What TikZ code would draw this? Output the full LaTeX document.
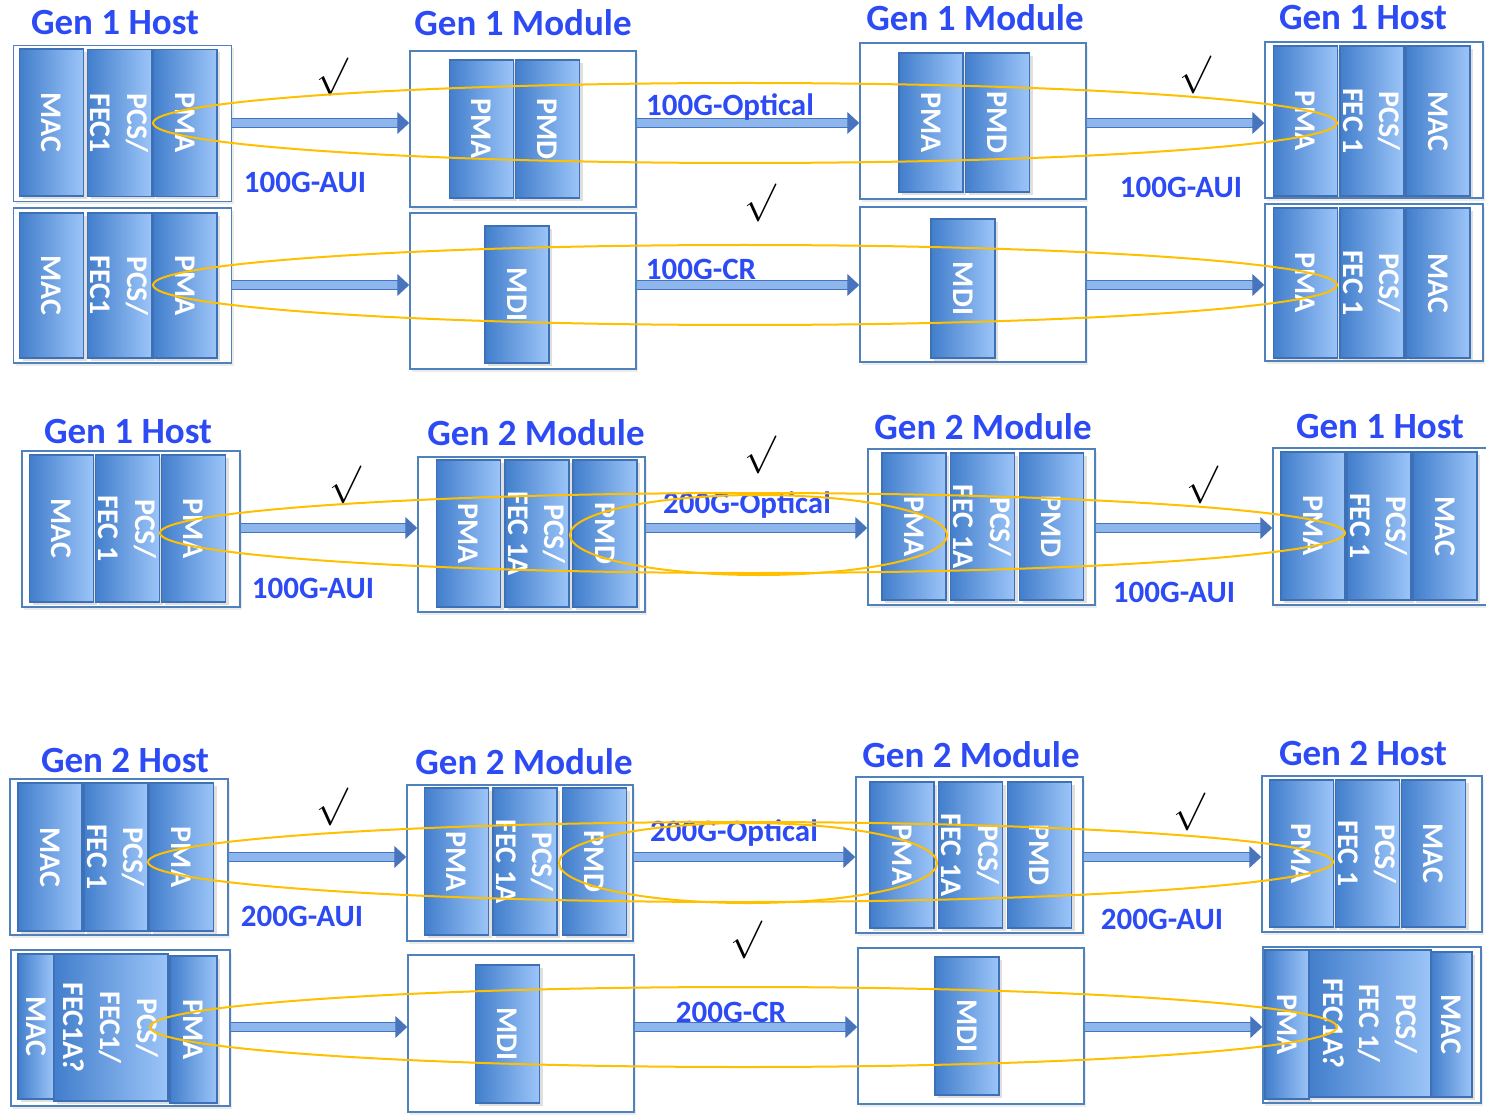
\documentclass[tikz,border=0pt]{standalone}
\usepackage{fontspec}
\setmainfont{Carlito}
\usetikzlibrary{arrows.meta,shadows}

\definecolor{blockdark}{RGB}{66,126,204}
\definecolor{blocklight}{RGB}{156,197,248}
\definecolor{blockedge}{RGB}{62,112,182}
\definecolor{boxedge}{RGB}{79,129,189}
\definecolor{textblue}{RGB}{45,75,245}
\definecolor{loopgold}{RGB}{255,192,0}
\definecolor{arrowedge}{RGB}{72,116,190}
\definecolor{arrowfill}{RGB}{140,182,236}

\begin{document}
\begin{tikzpicture}[x=0.5pt, y=-0.5pt,
  unit_node/.style={draw=boxedge, line width=0.75pt, fill=white, inner sep=0pt, minimum width=109pt, minimum height=78pt, drop shadow={opacity=0.15, shadow xshift=1pt, shadow yshift=-1.5pt}},
  layer_node/.style={rotate=-90, draw=blockedge, line width=0.6pt, left color=blockdark, right color=blocklight, text=white, align=center, inner sep=0pt, minimum height=32pt, minimum width=#1, font=\fontsize{15}{18.3}\selectfont\bfseries, drop shadow={opacity=0.25, shadow xshift=1.5pt, shadow yshift=-1.5pt}},
  title_node/.style={text=textblue, font=\fontsize{18.5}{22}\selectfont\bfseries},
  link_label/.style={text=textblue, font=\fontsize{15.5}{18}\selectfont\bfseries},
  tick_node/.style={scale=1.9, inner sep=0pt},
  link_arrow/.style={draw=arrowedge, line width=0.6pt, double=arrowfill, double distance=3.8pt, -{Triangle[length=6pt, width=11pt]}},
  pair_loop/.style={draw=loopgold, line width=1pt}]
    \useasboundingbox (0,0) rectangle (1486,1117);

    % row 1: Gen 1 host - Gen 1 module - optical
    \node[title_node] (t11) at (115,23) {Gen 1 Host};
    \node[title_node] (t12) at (523,23) {Gen 1 Module};
    \node[title_node] (t13) at (975,18) {Gen 1 Module};
    \node[title_node] (t14) at (1363,18) {Gen 1 Host};

    \node[unit_node] (hostL1) at (122.5,123.5) {};
    \node[layer_node=73.5pt] (macL1) at (51.5,122.5) {MAC};
    \node[layer_node=73.5pt] (pcsL1) at (119.5,123) {PCS/\\FEC1};
    \node[layer_node=73.5pt] (pmaL1) at (185,123) {PMA};

    \node[unit_node, minimum width=113pt] (modL1) at (523,129) {};
    \node[layer_node=69pt] (pmaML1) at (481.5,129) {PMA};
    \node[layer_node=69pt] (pmdML1) at (547.5,129) {PMD};

    \node[unit_node, minimum width=113pt] (modR1) at (973,121) {};
    \node[layer_node=69.5pt] (pmaMR1) at (931,122.5) {PMA};
    \node[layer_node=69.5pt] (pmdMR1) at (997.5,122.5) {PMD};

    \node[unit_node] (hostR1) at (1374,120) {};
    \node[layer_node=75pt] (pmaR1) at (1305.5,121) {PMA};
    \node[layer_node=75pt] (pcsR1) at (1372,121) {PCS/\\FEC 1};
    \node[layer_node=75pt] (macR1) at (1438,121) {MAC};

    \coordinate (row1) at (0,123);
    \draw[link_arrow] (hostL1.east |- row1) -- (modL1.west |- row1);
    \draw[link_arrow] (modL1.east |- row1) -- (modR1.west |- row1);
    \draw[link_arrow] (modR1.east |- row1) -- (hostR1.west |- row1);
    \node[link_label] (aui11) at (305,182) {100G-AUI};
    \node[link_label] (med1) at (730,107) {100G-Optical};
    \node[link_label] (aui12) at (1181,187) {100G-AUI};
    \node[tick_node] (ok11) at (332,77) {$\surd$};
    \node[tick_node] (ok12) at (1195,75) {$\surd$};

    % row 2: Gen 1 host - copper
    \node[unit_node, minimum height=77.5pt] (hostL2) at (122.5,285.5) {};
    \node[layer_node=72.5pt] (macL2) at (51.5,285.5) {MAC};
    \node[layer_node=72.5pt] (pcsL2) at (119.5,285.5) {PCS/\\FEC1};
    \node[layer_node=72.5pt] (pmaL2) at (185,285.5) {PMA};

    \node[unit_node, minimum width=113pt] (modL2) at (523,291) {};
    \node[layer_node=68.5pt] (mdiL2) at (517,294.5) {MDI};

    \node[unit_node, minimum width=113pt, minimum height=77.5pt] (modR2) at (973,284.5) {};
    \node[layer_node=69.5pt] (mdiR2) at (963,288.5) {MDI};

    \node[unit_node, minimum height=78.5pt] (hostR2) at (1374,282.5) {};
    \node[layer_node=75pt] (pmaR2) at (1305.5,283) {PMA};
    \node[layer_node=75pt] (pcsR2) at (1372,283) {PCS/\\FEC 1};
    \node[layer_node=75pt] (macR2) at (1438,283) {MAC};

    \coordinate (row2) at (0,285);
    \draw[link_arrow] (hostL2.east |- row2) -- (modL2.west |- row2);
    \draw[link_arrow] (modL2.east |- row2) -- (modR2.west |- row2);
    \draw[link_arrow] (modR2.east |- row2) -- (hostR2.west |- row2);
    \node[link_label] (med2) at (701,269) {100G-CR};
    \node[tick_node] (ok2) at (760,203) {$\surd$};

    % row 3: Gen 1 host - Gen 2 module
    \node[title_node] (t31) at (128,432) {Gen 1 Host};
    \node[title_node] (t32) at (536,433) {Gen 2 Module};
    \node[title_node] (t33) at (983,427) {Gen 2 Module};
    \node[title_node] (t34) at (1380,427) {Gen 1 Host};

    \node[unit_node] (hostL3) at (131,529) {};
    \node[layer_node=73.5pt] (macL3) at (61.5,528.5) {MAC};
    \node[layer_node=73.5pt] (pcsL3) at (127.5,528.5) {PCS/\\FEC 1};
    \node[layer_node=73.5pt] (pmaL3) at (193.5,528.5) {PMA};

    \node[unit_node, minimum width=113.5pt, minimum height=77.5pt] (modL3) at (531.5,534.5) {};
    \node[layer_node=73.5pt] (pmaML3) at (468.5,533.5) {PMA};
    \node[layer_node=73.5pt] (pcsML3) at (537,533.5) {PCS/\\FEC 1A};
    \node[layer_node=73.5pt] (pmdML3) at (605,533.5) {PMD};

    \node[unit_node, minimum width=113.5pt] (modR3) at (981.5,527) {};
    \node[layer_node=73.5pt] (pmaMR3) at (914,526.5) {PMA};
    \node[layer_node=73.5pt] (pcsMR3) at (982.5,526.5) {PCS/\\FEC 1A};
    \node[layer_node=73.5pt] (pmdMR3) at (1051.5,526.5) {PMD};

    \node[unit_node, minimum width=107.5pt, minimum height=78.5pt] (hostR3) at (1380.5,526.5) {};
    \node[layer_node=74pt] (pmaR3) at (1313,526) {PMA};
    \node[layer_node=74pt] (pcsR3) at (1379,526) {PCS/\\FEC 1};
    \node[layer_node=74pt] (macR3) at (1445,526) {MAC};

    \coordinate (row3) at (0,528);
    \draw[link_arrow] (hostL3.east |- row3) -- (modL3.west |- row3);
    \draw[link_arrow] (modL3.east |- row3) -- (modR3.west |- row3);
    \draw[link_arrow] (modR3.east |- row3) -- (hostR3.west |- row3);
    \node[link_label] (aui31) at (313,588) {100G-AUI};
    \node[link_label] (med3) at (747,505) {200G-Optical};
    \node[link_label] (aui32) at (1174,592) {100G-AUI};
    \node[tick_node] (ok31) at (345,485) {$\surd$};
    \node[tick_node] (ok32) at (760,455) {$\surd$};
    \node[tick_node] (ok33) at (1202,485) {$\surd$};

    % row 4: Gen 2 host - Gen 2 module - optical
    \node[title_node] (t41) at (125,760) {Gen 2 Host};
    \node[title_node] (t42) at (524,762) {Gen 2 Module};
    \node[title_node] (t43) at (971,755) {Gen 2 Module};
    \node[title_node] (t44) at (1363,753) {Gen 2 Host};

    \node[unit_node] (hostL4) at (119,857) {};
    \node[layer_node=74pt] (macL4) at (50,857) {MAC};
    \node[layer_node=74pt] (pcsL4) at (116,857) {PCS/\\FEC 1};
    \node[layer_node=74pt] (pmaL4) at (181.5,857) {PMA};

    \node[unit_node, minimum width=113pt] (modL4) at (520,863) {};
    \node[layer_node=73.5pt] (pmaML4) at (456.5,861.5) {PMA};
    \node[layer_node=73.5pt] (pcsML4) at (525,861.5) {PCS/\\FEC 1A};
    \node[layer_node=73.5pt] (pmdML4) at (594.5,861.5) {PMD};

    \node[unit_node, minimum width=113.5pt] (modR4) at (969.5,855) {};
    \node[layer_node=73pt] (pmaMR4) at (902,855) {PMA};
    \node[layer_node=73pt] (pcsMR4) at (970.5,855) {PCS/\\FEC 1A};
    \node[layer_node=73pt] (pmdMR4) at (1039.5,855) {PMD};

    \node[unit_node, minimum width=110pt] (hostR4) at (1372,854) {};
    \node[layer_node=73.5pt] (pmaR4) at (1301.5,853.5) {PMA};
    \node[layer_node=73.5pt] (pcsR4) at (1367.5,853.5) {PCS/\\FEC 1};
    \node[layer_node=73.5pt] (macR4) at (1433.5,853.5) {MAC};

    \coordinate (row4) at (0,857);
    \draw[link_arrow] (hostL4.east |- row4) -- (modL4.west |- row4);
    \draw[link_arrow] (modL4.east |- row4) -- (modR4.west |- row4);
    \draw[link_arrow] (modR4.east |- row4) -- (hostR4.west |- row4);
    \node[link_label] (aui41) at (302,916) {200G-AUI};
    \node[link_label] (med4) at (734,833) {200G-Optical};
    \node[link_label] (aui42) at (1162,919) {200G-AUI};
    \node[tick_node] (ok41) at (332,807) {$\surd$};
    \node[tick_node] (ok42) at (1189,812) {$\surd$};

    % row 5: Gen 2 host - copper
    \node[unit_node, minimum width=109.5pt] (hostL5) at (120.5,1028) {};
    \node[layer_node=72.5pt, minimum height=18pt] (macL5) at (36,1026.5) {MAC};
    \node[layer_node=73.5pt, minimum height=57pt] (pcsL5) at (111,1027.5) {PCS/\\FEC1/\\FEC1A?};
    \node[layer_node=73.5pt, minimum height=23.5pt] (pmaL5) at (193.5,1029.5) {PMA};

    \node[unit_node, minimum width=113pt, minimum height=78.5pt] (modL5) at (521,1033.5) {};
    \node[layer_node=69pt] (mdiL5) at (507.5,1034) {MDI};

    \node[unit_node, minimum width=113pt] (modR5) at (971,1026) {};
    \node[layer_node=69pt] (mdiR5) at (967,1026) {MDI};

    \node[unit_node] (hostR5) at (1372,1025) {};
    \node[layer_node=74.5pt, minimum height=22pt] (pmaR5) at (1287,1024.5) {PMA};
    \node[layer_node=73.5pt, minimum height=61pt] (pcsR5) at (1370,1023.5) {PCS/\\FEC 1/\\FEC1A?};
    \node[layer_node=72.5pt, minimum height=20.5pt] (macR5) at (1451.5,1024.5) {MAC};

    \coordinate (row5) at (0,1027);
    \draw[link_arrow] (hostL5.east |- row5) -- (modL5.west |- row5);
    \draw[link_arrow] (modL5.east |- row5) -- (modR5.west |- row5);
    \draw[link_arrow] (modR5.east |- row5) -- (hostR5.west |- row5);
    \node[link_label] (med5) at (731,1012) {200G-CR};
    \node[tick_node] (ok5) at (746,940) {$\surd$};

    % end-to-end loops
    \draw[pair_loop] (745,123) ellipse [x radius=592, y radius=40];
    \draw[pair_loop] (745,285) ellipse [x radius=592, y radius=40];
    \draw[pair_loop] (752.5,533) ellipse [x radius=592.5, y radius=40];
    \draw[pair_loop] (758.5,535) ellipse [x radius=188.5, y radius=40];
    \draw[pair_loop] (740.5,862) ellipse [x radius=592.5, y radius=40];
    \draw[pair_loop] (748,863) ellipse [x radius=189, y radius=40];
    \draw[pair_loop] (743.5,1027) ellipse [x radius=593.5, y radius=40];
\end{tikzpicture}
\end{document}
